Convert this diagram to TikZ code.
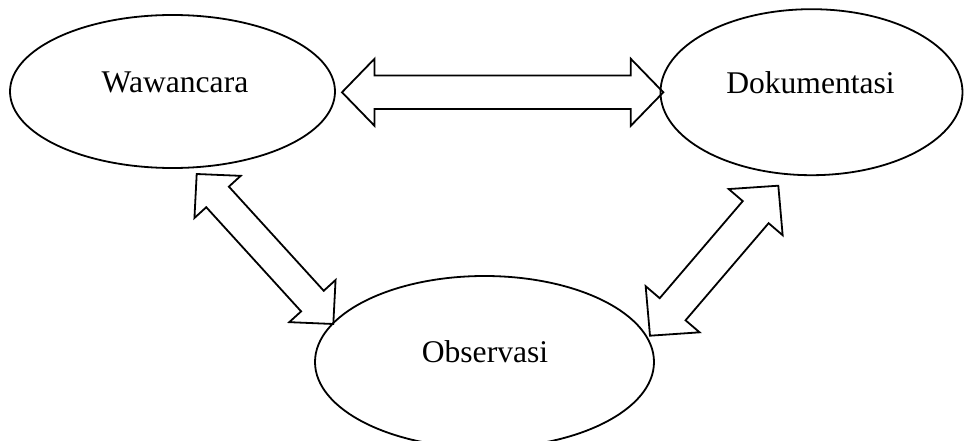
\documentclass[tikz,border=0pt]{standalone}
\usepackage{fontspec}
\setmainfont{Liberation Serif}
\usetikzlibrary{shapes.geometric,calc}

\tikzset{
  oval/.style={ellipse, draw, line width=1.8pt, inner sep=0pt},
  caption/.style={font=\fontsize{31.6}{38}\selectfont, inner sep=0pt},
  blockarrow/.style={draw, line width=1.8pt, line join=miter},
}

% Two-headed block arrow between two tips:
% #1,#2 tips, #3 head length, #4 head half width, #5 shaft half width, #6 name prefix
\newcommand\twowayarrow[6]{%
  \coordinate (#6-ha) at ($(#1)!#3!(#2)$);
  \coordinate (#6-hb) at ($(#2)!#3!(#1)$);
  \draw[blockarrow] (#1)
    -- ($(#6-ha)!#4!90:(#2)$) -- ($(#6-ha)!#5!90:(#2)$)
    -- ($(#6-hb)!#5!-90:(#1)$) -- ($(#6-hb)!#4!-90:(#1)$)
    -- (#2)
    -- ($(#6-hb)!#4!90:(#1)$) -- ($(#6-hb)!#5!90:(#1)$)
    -- ($(#6-ha)!#5!-90:(#2)$) -- ($(#6-ha)!#4!-90:(#2)$)
    -- cycle;
}

\begin{document}
\begin{tikzpicture}[x=1pt,y=-1pt]
  \useasboundingbox (0,0) rectangle (964,441);

  % the three methods
  \node[oval, minimum width=325pt, minimum height=153pt] (wawancara) at (172.5,91.5) {};
  \node[caption] (wawancara-text) at (175,82) {Wawancara};

  \node[oval, minimum width=302pt, minimum height=166pt] (dokumentasi) at (811.5,92.2) {};
  \node[caption] (dokumentasi-text) at (810.5,82.5) {Dokumentasi};

  \node[oval, minimum width=339pt, minimum height=172pt] (observasi) at (484.5,362) {};
  \node[caption] (observasi-text) at (485,351.3) {Observasi};

  % arrow tips at the ovals
  \coordinate (wd-a) at (342,92.3);
  \coordinate (wd-b) at (663.3,92.3);
  \coordinate (wo-a) at (196.7,174);
  \coordinate (wo-b) at (333.3,324);
  \coordinate (do-a) at (778.3,185.7);
  \coordinate (do-b) at (650,335.7);

  \twowayarrow{wd-a}{wd-b}{32.5pt}{33.5pt}{16.8pt}{wd}
  \twowayarrow{wo-a}{wo-b}{31pt}{31.3pt}{15.3pt}{wo}
  \twowayarrow{do-a}{do-b}{34.8pt}{35.5pt}{17pt}{do}
\end{tikzpicture}
\end{document}
